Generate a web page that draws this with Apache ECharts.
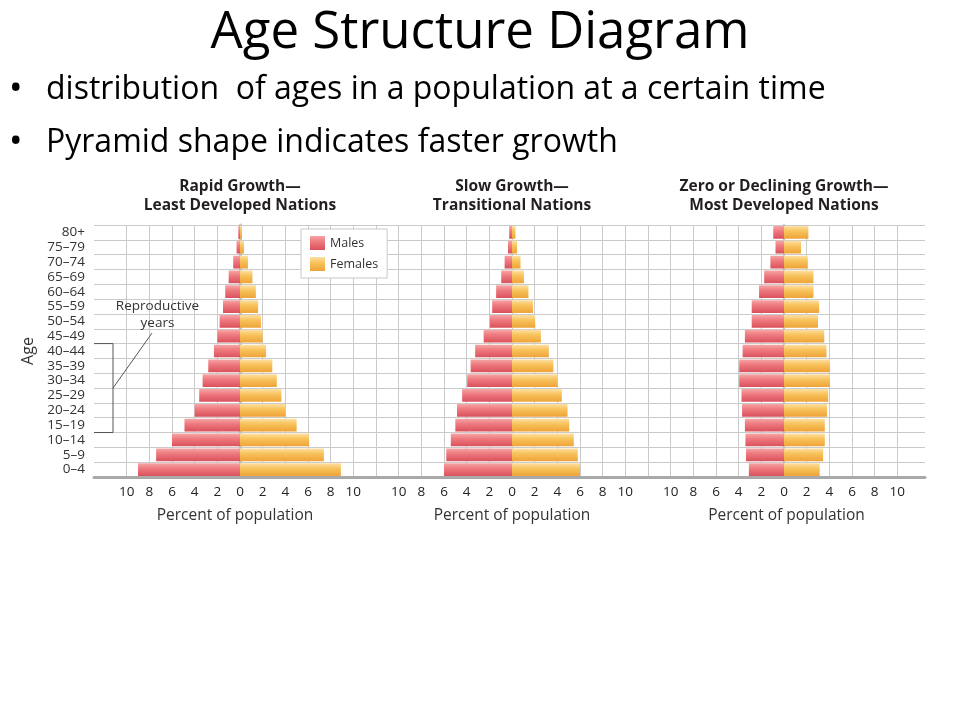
<!DOCTYPE html>
<html>
<head>
<meta charset="utf-8">
<script src="https://cdn.jsdelivr.net/npm/echarts@6/dist/echarts.min.js"></script>
<style>
  html, body { margin: 0; padding: 0; background: #fff; }
  #chart { width: 960px; height: 720px; }
</style>
</head>
<body>
<div id="chart"></div>
<script>
// Age groups, youngest at the bottom of each pyramid
const ageGroups = ['0–4', '5–9', '10–14', '15–19', '20–24', '25–29', '30–34', '35–39',
  '40–44', '45–49', '50–54', '55–59', '60–64', '65–69', '70–74', '75–79', '80+'];

// Percent of population in each age group
const rapidMales     = [9.0, 7.4, 6.0, 4.9, 4.0, 3.6, 3.3, 2.8, 2.3, 2.0, 1.8, 1.5, 1.3, 1.0, 0.6, 0.3, 0.15];
const rapidFemales   = [8.9, 7.4, 6.1, 5.0, 4.0, 3.65, 3.25, 2.85, 2.3, 2.0, 1.85, 1.6, 1.4, 1.1, 0.7, 0.35, 0.15];
const slowMales      = [6.0, 5.8, 5.4, 5.0, 4.85, 4.4, 3.95, 3.65, 3.25, 2.5, 1.95, 1.75, 1.4, 0.95, 0.65, 0.35, 0.25];
const slowFemales    = [6.0, 5.8, 5.45, 5.05, 4.9, 4.4, 4.0, 3.65, 3.25, 2.55, 2.05, 1.85, 1.45, 1.05, 0.75, 0.45, 0.3];
const declineMales   = [3.1, 3.35, 3.4, 3.45, 3.7, 3.75, 3.95, 3.95, 3.65, 3.45, 2.85, 2.85, 2.2, 1.75, 1.2, 0.75, 0.95];
const declineFemales = [3.15, 3.45, 3.6, 3.6, 3.8, 3.9, 4.05, 4.05, 3.75, 3.55, 3.0, 3.1, 2.6, 2.6, 2.1, 1.5, 2.15];

// Tick labels on each percent axis
const percentTicks = [-10, -8, -6, -4, -2, 0, 2, 4, 6, 8, 10];

// Text
const mainTitle = 'Age Structure Diagram';
const bulletLines = ['distribution  of ages in a population at a certain time',
  'Pyramid shape indicates faster growth'];
const panelTitles = [
  ['Rapid Growth—', 'Least Developed Nations'],
  ['Slow Growth—', 'Transitional Nations'],
  ['Zero or Declining Growth—', 'Most Developed Nations']
];
const percentAxisName = 'Percent of population';
const ageAxisName = 'Age';
const sexNames = ['Males', 'Females'];
const reproductiveNote = ['Reproductive', 'years'];
const reproductiveRange = ['15–19', '40–44'];

const panels = [
  { males: rapidMales, females: rapidFemales },
  { males: slowMales, females: slowFemales },
  { males: declineMales, females: declineFemales }
];

// ---- layout ----
const gridTop = 225, gridHeight = 252;
const unitPx = 272 / 24;
const panelBoxes = [
  { left: 94,  width: 282, min: -282 / unitPx + 12, max: 12, lines: [12] },
  { left: 376, width: 272, min: -12, max: 12, lines: [-12, 12] },
  { left: 648, width: 277, min: -12, max: 277 / unitPx - 12, lines: [-12] }
];
const chartFont = '"Open Sans", "DejaVu Sans", sans-serif';
const slideFont = '"Open Sans", Lato, sans-serif';
const gridLineColor = '#cacaca';

const maleColor = new echarts.graphic.LinearGradient(0, 0, 0, 1, [
  { offset: 0, color: '#f6a5a6' },
  { offset: 0.4, color: '#ee7a7f' },
  { offset: 1, color: '#da515c' }
]);
const femaleColor = new echarts.graphic.LinearGradient(0, 0, 0, 1, [
  { offset: 0, color: '#fde0a4' },
  { offset: 0.4, color: '#f8c35c' },
  { offset: 1, color: '#eea338' }
]);

const grids = [], xAxes = [], yAxes = [], series = [];
panelBoxes.forEach((b, i) => {
  grids.push({ left: b.left, top: gridTop, width: b.width, height: gridHeight, containLabel: false });
  xAxes.push({
    type: 'value', gridIndex: i, min: b.min, max: b.max,
    axisLine: { show: true, onZero: false, lineStyle: { color: '#a9a9a9', width: 3 } },
    axisTick: { show: false, customValues: percentTicks.concat(b.lines) },
    axisLabel: {
      customValues: percentTicks, margin: 8,
      fontFamily: chartFont, fontSize: 13.5, color: '#222',
      formatter: v => String(Math.abs(v))
    },
    splitLine: { show: true, lineStyle: { color: gridLineColor, width: 1 } },
    name: percentAxisName, nameLocation: 'middle', nameGap: 31,
    nameTextStyle: { fontFamily: chartFont, fontSize: 15.5, color: '#333' }
  });
  yAxes.push({
    type: 'category', gridIndex: i, data: ageGroups,
    position: i === 2 ? 'right' : 'left',
    axisLine: { show: i !== 1, lineStyle: { color: '#c2c2c2', width: i === 0 ? 3 : 2 } },
    axisTick: { show: false },
    axisLabel: { show: i === 0, interval: 0, fontFamily: chartFont, fontSize: 13.5, color: '#333', margin: 9 },
    splitLine: { show: true, interval: 0, lineStyle: { color: gridLineColor, width: 1 } },
    name: i === 0 ? ageAxisName : '', nameLocation: 'middle', nameGap: 58, nameRotate: 90,
    nameTextStyle: { fontFamily: chartFont, fontSize: 16, color: '#333' }
  });
  const p = panels[i];
  series.push({
    name: sexNames[0], type: 'bar', xAxisIndex: i, yAxisIndex: i,
    data: p.males.map(v => -v), barWidth: '86%', barGap: '-100%',
    itemStyle: { color: maleColor }, emphasis: { disabled: true }
  });
  series.push({
    name: sexNames[1], type: 'bar', xAxisIndex: i, yAxisIndex: i,
    data: p.females, barWidth: '86%', barGap: '-100%',
    itemStyle: { color: femaleColor }, emphasis: { disabled: true }
  });
});

const chart = echarts.init(document.getElementById('chart'), null, { renderer: 'canvas' });

const option = {
  backgroundColor: '#ffffff',
  animation: false,
  title: {
    text: mainTitle, left: 'center', top: 3,
    textStyle: { fontFamily: slideFont, fontSize: 51, fontWeight: 'normal', color: '#000' }
  },
  legend: {
    data: sexNames, orient: 'vertical', left: 301, top: 229,
    padding: [7, 9, 7, 9], itemWidth: 15, itemHeight: 14, itemGap: 7,
    icon: 'rect', backgroundColor: '#fff', borderColor: '#c8c8c8', borderWidth: 1,
    textStyle: { fontFamily: chartFont, fontSize: 12.5, color: '#333' }
  },
  grid: grids, xAxis: xAxes, yAxis: yAxes, series: series
};
chart.setOption(option);

// Slide text, panel headings and the reproductive-years bracket
function buildGraphics() {
  const els = [];
  bulletLines.forEach((t, k) => {
    const y = 90 + k * 53;
    els.push({ type: 'text', x: 9, y: y, style: { text: '•', fontFamily: slideFont, fontSize: 36, fill: '#000', verticalAlign: 'middle' } });
    els.push({ type: 'text', x: 46, y: y, style: { text: t, fontFamily: slideFont, fontSize: 32, fill: '#000', verticalAlign: 'middle' } });
  });
  panelTitles.forEach((lines, i) => {
    const cx = chart.convertToPixel({ xAxisIndex: i }, 0);
    lines.forEach((t, k) => {
      els.push({ type: 'text', x: cx, y: 187 + k * 19, style: {
        text: t, fontFamily: chartFont, fontSize: 15.5, fontWeight: 'bold', fill: '#231f20',
        align: 'center', verticalAlign: 'middle' } });
    });
  });
  const leftX = chart.convertToPixel({ xAxisIndex: 0 }, panelBoxes[0].min);
  const c0 = chart.convertToPixel({ yAxisIndex: 0 }, ageGroups[0]);
  const c1 = chart.convertToPixel({ yAxisIndex: 0 }, ageGroups[1]);
  const band = Math.abs(c0 - c1);
  const yBottom = chart.convertToPixel({ yAxisIndex: 0 }, reproductiveRange[0]) + band / 2;
  const yTop = chart.convertToPixel({ yAxisIndex: 0 }, reproductiveRange[1]) - band / 2;
  const bx = leftX + 19;
  const midY = (yTop + yBottom) / 2;
  els.push({ type: 'polyline', shape: { points: [[leftX, yTop], [bx, yTop], [bx, yBottom], [leftX, yBottom]] },
    style: { stroke: '#555', lineWidth: 1, fill: null }, z: 10 });
  els.push({ type: 'line', shape: { x1: bx, y1: midY, x2: bx + 39, y2: midY - 55 },
    style: { stroke: '#555', lineWidth: 1 }, z: 10 });
  reproductiveNote.forEach((t, k) => {
    els.push({ type: 'text', x: 157.5, y: 306 + k * 17, z: 10, style: {
      text: t, fontFamily: chartFont, fontSize: 13.5, fill: '#333', align: 'center', verticalAlign: 'middle' } });
  });
  return els;
}
chart.setOption({ graphic: buildGraphics() });
</script>
</body>
</html>
